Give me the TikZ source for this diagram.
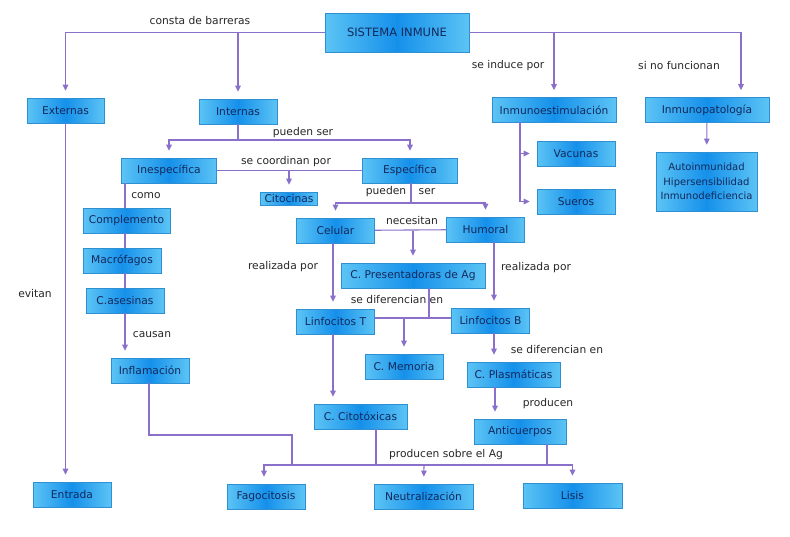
\documentclass[tikz,border=0pt]{standalone}
\usepackage{fontspec}
\setmainfont{DejaVu Sans}
\usetikzlibrary{arrows.meta,calc}
\definecolor{lnk}{HTML}{8A6FCB}
\definecolor{bedge}{HTML}{5CC4F5}
\definecolor{bmid}{HTML}{1590EA}
\definecolor{bline}{HTML}{2E8FD3}
\definecolor{btext}{HTML}{13295C}
\tikzset{
  >={Triangle[width=5.5pt,length=6pt]},
  box/.style={draw=bline,line width=0.6pt,left color=bedge,right color=bedge,middle color=bmid,
    minimum width=#1,minimum height=25pt,inner sep=1pt,font=\fontsize{10.7}{13}\selectfont,text=btext,align=center},
  box/.default=78pt,
  lab/.style={font=\fontsize{10.7}{13}\selectfont,text=black!85,inner sep=0pt},
  link/.style={draw=lnk,line width=1.1pt},
  arr/.style={link,->,shorten >=7pt},
}

\begin{document}
\begin{tikzpicture}[x=1pt,y=-1pt]
\useasboundingbox (0,0) rectangle (790,536);
% boxes
\node[box=144pt,minimum height=39pt,font=\fontsize{11.5}{13}\selectfont] (sis) at (397,32.5) {SISTEMA INMUNE};
\node[box=77pt] (ext) at (65.5,110.5) {Externas};
\node[box] (int) at (238,111.5) {Internas};
\node[box=124pt] (estim) at (554,110) {Inmunoestimulación};
\node[box=124pt] (pato) at (707,110) {Inmunopatología};
\node[box=101pt,minimum height=59pt,font=\fontsize{10}{14.5}\selectfont] (enf) at (706.5,181.5) {Autoinmunidad\\Hipersensibilidad\\Inmunodeficiencia};
\node[box] (vac) at (576,153.5) {Vacunas};
\node[box] (sue) at (576,201.5) {Sueros};
\node[box=95pt] (inesp) at (169,170.5) {Inespecífica};
\node[box=95pt] (esp) at (410,170.5) {Específica};
\node[box=57pt,minimum height=13pt,inner sep=0.5pt] (cito) at (289,198.5) {Citocinas};
\node[box=87pt] (compl) at (126.5,220.5) {Complemento};
\node[box] (macro) at (122,260.5) {Macrófagos};
\node[box] (ases) at (125,300.5) {C.asesinas};
\node[box] (infl) at (150,370.5) {Inflamación};
\node[box] (entr) at (72,494.5) {Entrada};
\node[box] (celu) at (335.5,230.5) {Celular};
\node[box] (humo) at (485.5,229.5) {Humoral};
\node[box=144pt] (pres) at (413,275.5) {C. Presentadoras de Ag};
\node[box] (linT) at (335.5,321.5) {Linfocitos T};
\node[box] (linB) at (490.5,320.5) {Linfocitos B};
\node[box] (mem) at (404,366.5) {C. Memoria};
\node[box=93pt] (plas) at (513.5,374.5) {C. Plasmáticas};
\node[box=93pt] (citox) at (360.5,416.5) {C. Citotóxicas};
\node[box=92pt] (anti) at (520,431.5) {Anticuerpos};
\node[box] (fago) at (266,496.5) {Fagocitosis};
\node[box=99pt] (neut) at (423.5,496.5) {Neutralización};
\node[box=99pt] (lisis) at (572.5,495.5) {Lisis};
% labels
\node[lab] (l1) at (200,21) {consta de barreras};
\node[lab] (l2) at (508,66) {se induce por};
\node[lab] (l3) at (679,66) {si no funcionan};
\node[lab] (l4) at (35,294) {evitan};
\node[lab] (l5) at (303,133) {pueden ser};
\node[lab] (l6) at (286,162) {se coordinan por};
\node[lab] (l7) at (146,196) {como};
\node[lab] (l8) at (152,335) {causan};
\node[lab] (l9) at (386,192) {pueden};
\node[lab] (l10) at (427,192) {ser};
\node[lab] (l11) at (412,221) {necesitan};
\node[lab] (l12) at (283,267) {realizada por};
\node[lab] (l13) at (536,268) {realizada por};
\node[lab] (l14) at (397,300) {se diferencian en};
\node[lab] (l15) at (557,350) {se diferencian en};
\node[lab] (l16) at (548,404) {producen};
\node[lab] (l17) at (446,455) {producen sobre el Ag};
% junctions
\coordinate (ij) at (238,140);
\coordinate (ej) at (520,122);
\coordinate (sj) at (411,203);
\coordinate (pj) at (429,318);
\coordinate (fk) at (292,435);
\coordinate (bus) at (424,465);
% connectors
\draw[arr] (sis.west) -| (ext);
\draw[arr] (int |- sis.west) -- (int);
\draw[arr] (sis.east) -| ([xshift=34pt]pato.north);
\draw[arr] (estim |- sis.east) -- (estim);
\draw[arr] (pato) -- (enf);
\draw[arr] (ej) |- (vac);
\draw[arr] (ej) |- (sue);
\draw[arr] (ext.south) -- (ext.south |- entr.north);
\draw[link] (int) -- (ij);
\draw[arr] (ij) -| (inesp);
\draw[arr] (ij) -| (esp);
\draw[link] (inesp) -- (esp);
\draw[arr] (cito |- inesp.east) -- (cito);
\draw[link] (inesp.south -| ases) -- (compl.north -| ases);
\draw[link] (compl.south -| ases) -- (macro.north -| ases);
\draw[link] (macro.south -| ases) -- (ases.north);
\draw[arr] (ases.south) -- (ases.south |- infl.north);
\draw[link] (esp.south -| sj) -- (sj);
\draw[arr] (sj) -| (celu);
\draw[arr] (sj) -| (humo);
\draw[link] (celu) -- (humo);
\draw[arr] (pres |- celu.east) -- (pres);
\draw[arr] ([xshift=-2.5pt]celu.south) -- ([xshift=-2.5pt]celu.south |- linT.north);
\draw[arr] ([xshift=8.5pt]humo.south) -- ([xshift=8.5pt]humo.south |- linB.north);
\draw[link] (pres.south -| pj) -- (pj);
\draw[link] (linT.east |- pj) -- (linB.west |- pj);
\draw[arr] (mem |- pj) -- (mem);
\draw[arr] ([xshift=-2.5pt]linT.south) -- ([xshift=-2.5pt]linT.south |- citox.north);
\draw[arr] ([xshift=3.5pt]linB.south) -- ([xshift=3.5pt]linB.south |- plas.north);
\draw[arr] ([xshift=-18.5pt]plas.south) -- ([xshift=-18.5pt]plas.south |- anti.north);
\draw[link] ([xshift=-1pt]infl.south) |- (fk) -- (fk |- bus);
\draw[link] ([xshift=15.5pt]citox.south) -- ([xshift=15.5pt]citox.south |- bus);
\draw[link] ([xshift=27pt]anti.south) -- ([xshift=27pt]anti.south |- bus);
\draw[arr] (bus) -| ([xshift=-2pt]fago.north);
\draw[arr] (bus) -- (neut);
\draw[arr] (bus) -| (lisis);
\end{tikzpicture}
\end{document}
